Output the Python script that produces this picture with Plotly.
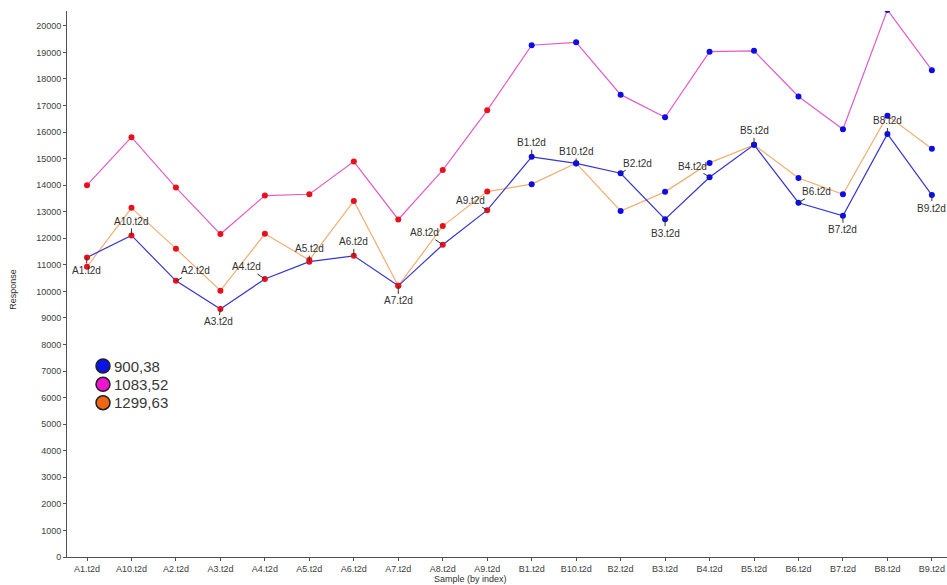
import plotly.graph_objects as go

# Sample names along the x axis
samples = ["A1.t2d", "A10.t2d", "A2.t2d", "A3.t2d", "A4.t2d", "A5.t2d", "A6.t2d",
           "A7.t2d", "A8.t2d", "A9.t2d", "B1.t2d", "B10.t2d", "B2.t2d", "B3.t2d",
           "B4.t2d", "B5.t2d", "B6.t2d", "B7.t2d", "B8.t2d", "B9.t2d"]

# Response per m/z feature
resp_900_38 = [11280, 12110, 10400, 9340, 10470, 11120, 11340, 10210, 11760, 13060,
               15070, 14820, 14450, 12720, 14300, 15520, 13340, 12850, 15930, 13630]
resp_1083_52 = [14000, 15810, 13910, 12160, 13610, 13660, 14890, 12710, 14570, 16820,
                19270, 19380, 17410, 16560, 19030, 19060, 17340, 16110, 20600, 18330]
resp_1299_63 = [10930, 13150, 11610, 10030, 12170, 11180, 13410, 10210, 12460, 13760,
                14040, 14830, 13030, 13750, 14840, 15520, 14270, 13660, 16620, 15370]

series_names = ["900,38", "1083,52", "1299,63"]
line_colors = ["#3535d0", "#e25cc8", "#f2ae72"]
legend_colors = ["#0a14e6", "#f014d2", "#f06414"]

# Points are coloured by sample group: A samples red, B samples blue
point_colors = ["#e8101a" if s.startswith("A") else "#0c0ce8" for s in samples]

# Label offsets (px) from the 900,38 point for each sample label
label_dx = [-1, 0, 20, -2, -18, 0, 0, 0, -18, -17, 0, 0, 17, 0, -17, 0, 18, 0, 0, 0]
label_dy = [13, -14, -10, 13, -12, -13, -14, 15, -12, -10, -14, -12, -10, 14, -11, -14, -11, 14, -13, 13]

FONT = "Liberation Sans, Arial, sans-serif"
W, H = 947, 585
ML, MR, MT, MB = 67, 0, 11, 28
PW, PH = W - ML - MR, H - MT - MB


def px_to_paper(px, py):
    return (px - ML) / PW, (H - MB - py) / PH


fig = go.Figure()

for vals, lc in zip([resp_1083_52, resp_1299_63, resp_900_38],
                    [line_colors[1], line_colors[2], line_colors[0]]):
    fig.add_trace(go.Scatter(
        x=samples, y=vals, mode="lines+markers",
        line=dict(color=lc, width=1.2),
        marker=dict(color=point_colors, size=6, line=dict(width=0)),
        showlegend=False, hoverinfo="x+y",
    ))

annotations = []
for s, v, dx, dy in zip(samples, resp_900_38, label_dx, label_dy):
    annotations.append(dict(
        x=s, y=v, xref="x", yref="y", text=s, showarrow=True,
        ax=dx, ay=dy, arrowhead=0, arrowwidth=1, arrowcolor="#303030",
        standoff=0, startstandoff=0,
        font=dict(family=FONT, size=10, color="#303030"),
    ))

# Series key drawn in the upper-left of the empty lower area
shapes = []
key_rows = [366, 384.3, 402.7]
for name, col, row in zip(series_names, legend_colors, key_rows):
    cx, cy = px_to_paper(103, row)
    shapes.append(dict(
        type="circle", xref="paper", yref="paper",
        xsizemode="pixel", ysizemode="pixel", xanchor=cx, yanchor=cy,
        x0=-7, x1=7, y0=-7, y1=7,
        fillcolor=col, line=dict(color="#202020", width=1.5),
    ))
    tx, ty = px_to_paper(112, row)
    annotations.append(dict(
        text=name, xref="paper", yref="paper", x=tx, y=ty,
        xanchor="left", yanchor="middle", showarrow=False,
        font=dict(family=FONT, size=15, color="#383838"),
    ))

annotations.append(dict(
    text="Response", xref="paper", yref="paper", x=-0.061, y=0.49,
    textangle=-90, showarrow=False, xanchor="center", yanchor="middle",
    font=dict(family=FONT, size=9, color="#303030"),
))
annotations.append(dict(
    text="Sample (by index)", xref="paper", yref="paper", x=0.458, y=-0.041,
    showarrow=False, xanchor="center", yanchor="middle",
    font=dict(family=FONT, size=9, color="#303030"),
))

fig.update_layout(
    width=W, height=H,
    margin=dict(l=ML, r=MR, t=MT, b=MB),
    paper_bgcolor="white", plot_bgcolor="white",
    font=dict(family=FONT, size=9, color="#404040"),
    annotations=annotations, shapes=shapes, showlegend=False,
    xaxis=dict(
        type="category", range=[-0.45, 19.34],
        showgrid=False, zeroline=False,
        showline=True, linecolor="#505050", linewidth=1,
        ticks="outside", ticklen=3, tickcolor="#505050",
        tickfont=dict(size=9, color="#404040"), fixedrange=True,
    ),
    yaxis=dict(
        range=[0, 20560], tickmode="linear", tick0=0, dtick=1000,
        tickformat="d",
        showgrid=False, zeroline=False,
        showline=True, linecolor="#505050", linewidth=1,
        ticks="outside", ticklen=3, tickcolor="#505050",
        tickfont=dict(size=9, color="#404040"), fixedrange=True,
    ),
)

fig.write_html("out.html")
